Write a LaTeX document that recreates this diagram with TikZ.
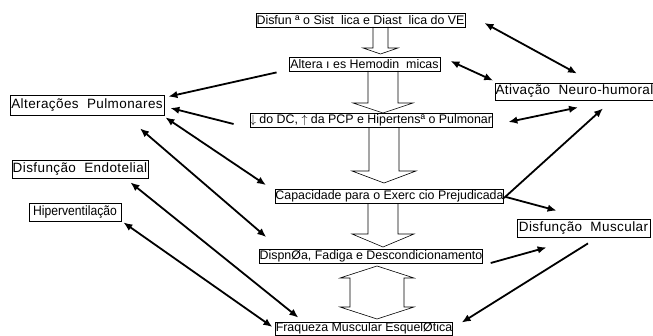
\documentclass[tikz,border=0pt]{standalone}
\usepackage{fontspec}
\setmainfont{Liberation Sans}
\newfontfamily\widefont[LetterSpace=3]{Liberation Sans}
\newfontfamily\narrowfont[FakeStretch=0.9]{Liberation Sans}
\usetikzlibrary{arrows.meta}

\tikzset{
	mainbox/.style={draw, line width=0.8pt, inner sep=0pt, minimum height=14pt,
		font=\fontsize{12.4}{14}\selectfont},
	sidebox/.style={draw, line width=0.8pt, inner sep=0pt, minimum height=18pt,
		font=\widefont\fontsize{13.5}{16}\selectfont},
	link/.style={line width=1.8pt, -{Latex[length=9pt,width=7.5pt]}},
	dlink/.style={line width=1.8pt, {Latex[length=9pt,width=7.5pt]}-{Latex[length=9pt,width=7.5pt]}},
	hollow/.style={draw, line width=0.6pt, line join=miter}
}

\begin{document}
\begin{tikzpicture}[x=1pt,y=-1pt]
	\useasboundingbox (0,0) rectangle (653,336);
	
	% central chain
	\node[mainbox, minimum width=209pt] (disf) at (360.5,20) {Disfun ª o Sist\ \ lica e Diast\ \ lica do VE};
	\node[mainbox, minimum width=151pt] (hemo) at (364.5,64) {Altera ı es Hemodin\ \ micas};
	\node[mainbox, minimum width=226pt] (dcpcp) at (371,120.5) {$\downarrow$ do DC, $\uparrow$ da PCP e Hipertensª o Pulmonar};
	\node[mainbox, minimum width=227pt] (capac) at (389.5,196.5) {Capacidade para o Exerc cio Prejudicada};
	\node[mainbox, minimum width=222pt] (dispn) at (371,256.5) {DispnØa, Fadiga e Descondicionamento};
	\node[mainbox, minimum width=174pt, minimum height=13pt] (fraq) at (364,328.5) {Fraqueza Muscular EsquelØtica};
	
	% side boxes
	\node[sidebox, minimum width=154pt, minimum height=20pt] (pulm) at (87,105) {Alterações\ \ Pulmonares};
	\node[sidebox, minimum width=136pt] (endo) at (80,169) {Disfunção\ \ Endotelial};
	\node[sidebox, minimum width=92pt, font=\narrowfont\fontsize{13.5}{16}\selectfont] (hiper) at (75,212) {Hiperventilação};
	\node[sidebox, minimum width=155pt, minimum height=17pt] (neuro) at (574.5,91.5) {Ativação\ \ Neuro-humoral};
	\node[sidebox, minimum width=133pt] (musc) at (583.5,228) {Disfunção\ \ Muscular};
	
	% hollow arrows
	\draw[hollow] (373,27) -- ++(0,21) -- ++(-10,0) -- ++(17.5,6) -- ++(17.5,-6) -- ++(-10,0) -- ++(0,-21);
	\draw[hollow] (368,71) -- ++(0,32) -- ++(-15,0) -- ++(30,10) -- ++(30,-10) -- ++(-15,0) -- ++(0,-32);
	\draw[hollow] (369,128) -- ++(0,43) -- ++(-17,0) -- ++(32,12) -- ++(32,-12) -- ++(-17,0) -- ++(0,-43);
	\draw[hollow] (368,204) -- ++(0,30) -- ++(-16,0) -- ++(31,13) -- ++(31,-13) -- ++(-16,0) -- ++(0,-30);
	\draw[hollow] (377,266) -- (414,278) -- (404,278) -- (404,307) -- (414,307) -- (377,319)
		-- (340,307) -- (350,307) -- (350,278) -- (340,278) -- cycle;
	
	% links
	\draw[dlink] ([shift={(19,3)}]disf.east) -- ([shift={(2.5,-9)}]neuro.north);
	\draw[dlink] ([shift={(10,-3)}]hemo.east) -- ([shift={(-2,-2)}]neuro.north west);
	\draw[link] ([shift={(-12,1)}]hemo.south west) -- ([shift={(4,2)}]pulm.north east);
	\draw[link] ([shift={(-16,3.5)}]dcpcp.west) -- ([shift={(6,3)}]pulm.east);
	\draw[dlink] ([shift={(16,1.5)}]dcpcp.east) -- ([shift={(3.5,7)}]neuro.south);
	\draw[link] ([shift={(0,1.5)}]capac.east) -- ([shift={(28.5,8)}]neuro.south);
	\draw[link] ([shift={(2,0.5)}]capac.east) -- ([shift={(40,-8)}]musc.north west);
	\draw[link] ([shift={(8,6.5)}]dispn.east) -- ([shift={(30,10)}]musc.south west);
	\draw[link] ([shift={(4.5,6)}]musc.south) -- ([shift={(9,1)}]fraq.north east);
	\draw[dlink] ([shift={(1,2)}]pulm.south east) -- ([shift={(-9,-4)}]capac.north west);
	\draw[dlink] ([shift={(53,13)}]pulm.south) -- ([shift={(7,-12)}]dispn.north west);
	\draw[dlink] ([shift={(-18,4)}]endo.south east) -- ([shift={(23,-4)}]fraq.north west);
	\draw[dlink] ([shift={(2,1)}]hiper.south east) -- ([shift={(-3,-1.5)}]fraq.west);
\end{tikzpicture}
\end{document}
